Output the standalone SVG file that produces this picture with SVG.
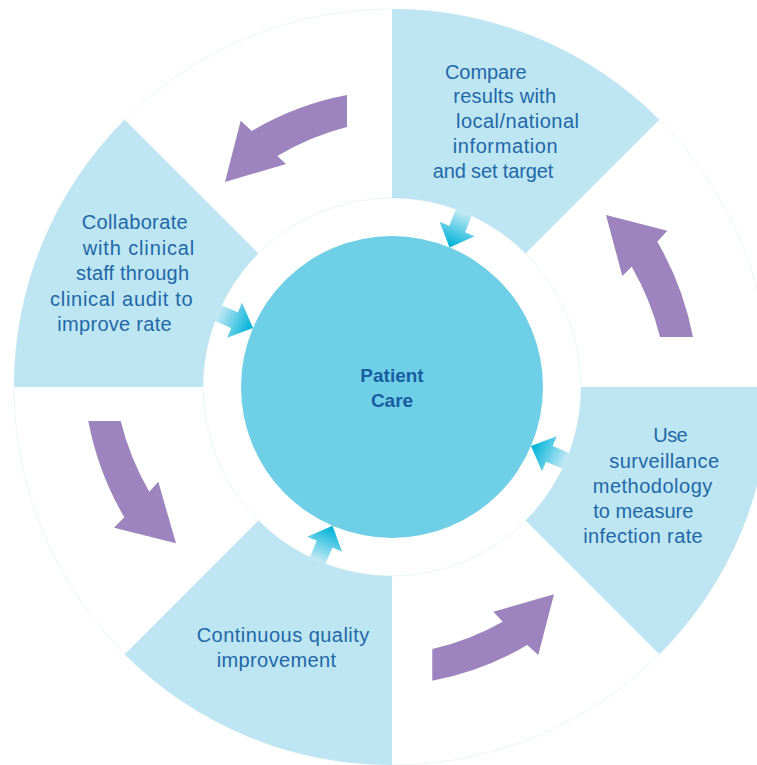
<svg xmlns="http://www.w3.org/2000/svg" width="757" height="765" viewBox="0 0 757 765">
  <defs>
    <style>
      .sector { fill: #bde5f2; }
      .ring { fill: #ffffff; stroke: #edf5f8; stroke-width: 1; }
      .core { fill: #6fcfe7; }
      .cycle { fill: #9e84bf; }
      .inward { fill: url(#inGrad); }
      .lbl { font-family: "Liberation Sans", Arial, sans-serif; font-size: 20px; fill: #1e68a8; }
      .title { font-family: "Liberation Sans", Arial, sans-serif; font-size: 19px; font-weight: bold; fill: #175da0; text-anchor: middle; }
    </style>
    <linearGradient id="inGrad" gradientUnits="userSpaceOnUse" x1="189" y1="0" x2="153" y2="0">
      <stop offset="0" stop-color="#c4e9f5"/>
      <stop offset="1" stop-color="#00b3d8"/>
    </linearGradient>
    <polygon id="inArrow" points="189,-8.5 171,-8.5 171,-19 151,0 171,19 171,8.5 189,8.5"/>
  </defs>
  <rect width="757" height="765" fill="#ffffff"/>
  <g id="rings">
    <circle class="ring" cx="392" cy="387" r="378"/>
    <circle class="ring" cx="392" cy="387" r="189"/>
  </g>
  <g id="node-compare">
    <path class="sector" d="M392,9 A378,378 0 0 1 659.3,119.7 L525.6,253.4 A189,189 0 0 0 392,198 Z"/>
    <text class="lbl" x="445" y="78.5" textLength="81.7" lengthAdjust="spacing">Compare</text>
    <text class="lbl" x="453.3" y="103" textLength="102.7" lengthAdjust="spacing">results with</text>
    <text class="lbl" x="456" y="128.3" textLength="123" lengthAdjust="spacing">local/national</text>
    <text class="lbl" x="452.7" y="153.3" textLength="105" lengthAdjust="spacing">information</text>
    <text class="lbl" x="432.7" y="178.3" textLength="120.6" lengthAdjust="spacing">and set target</text>
  </g>
  <g id="node-surveillance">
    <path class="sector" d="M770,387 A378,378 0 0 1 659.3,654.3 L525.6,520.6 A189,189 0 0 0 581,387 Z"/>
    <text class="lbl" x="653.3" y="442.3" textLength="34.4" lengthAdjust="spacing">Use</text>
    <text class="lbl" x="609.3" y="467.7" textLength="109.7" lengthAdjust="spacing">surveillance</text>
    <text class="lbl" x="592.7" y="492.7" textLength="119.6" lengthAdjust="spacing">methodology</text>
    <text class="lbl" x="593.3" y="517.7" textLength="100" lengthAdjust="spacing">to measure</text>
    <text class="lbl" x="583.3" y="543.3" textLength="119.4" lengthAdjust="spacing">infection rate</text>
  </g>
  <g id="node-quality">
    <path class="sector" d="M392,765 A378,378 0 0 1 124.7,654.3 L258.4,520.6 A189,189 0 0 0 392,576 Z"/>
    <text class="lbl" x="196.7" y="641.7" textLength="172.6" lengthAdjust="spacing">Continuous quality</text>
    <text class="lbl" x="216.7" y="666.7" textLength="119.3" lengthAdjust="spacing">improvement</text>
  </g>
  <g id="node-collaborate">
    <path class="sector" d="M14,387 A378,378 0 0 1 124.7,119.7 L258.4,253.4 A189,189 0 0 0 203,387 Z"/>
    <text class="lbl" x="81.7" y="229" textLength="106" lengthAdjust="spacing">Collaborate</text>
    <text class="lbl" x="82.7" y="254.5" textLength="111.6" lengthAdjust="spacing">with clinical</text>
    <text class="lbl" x="76" y="280" textLength="113" lengthAdjust="spacing">staff through</text>
    <text class="lbl" x="50" y="305.5" textLength="142.7" lengthAdjust="spacing">clinical audit to</text>
    <text class="lbl" x="57.3" y="331" textLength="114.4" lengthAdjust="spacing">improve rate</text>
  </g>
  <g id="node-patient-care">
    <circle class="core" cx="392" cy="387" r="151"/>
    <text class="title" x="392" y="381.7">Patient</text>
    <text class="title" x="392" y="407.3">Care</text>
  </g>
  <g id="connectors">
    <path class="cycle" d="M347,95 A293,293 0 0 0 251.7,131 L240.7,120.7 L225,182 L286,164 L277.3,156 A261,261 0 0 1 347,127 Z"/>
    <path class="cycle" d="M88.3,421 A301,301 0 0 0 124.3,517.3 L114,527.7 L176,543.3 L158.3,481.7 L149.3,491.7 A268,268 0 0 1 120.7,421 Z"/>
    <path class="cycle" d="M432.3,680.7 A294,294 0 0 0 527.3,645 L538.3,655 L554,594.3 L493.3,611.7 L502.7,621.7 A262,262 0 0 1 432.3,649 Z"/>
    <path class="cycle" d="M693,337 A303,303 0 0 0 657.3,241.7 L667.3,230.7 L606,215 L622.3,276 L631.7,266.7 A270,270 0 0 1 660,337 Z"/>
    <use href="#inArrow" class="inward" transform="translate(392,387) rotate(-67.6)"/>
    <use href="#inArrow" class="inward" transform="translate(392,387) rotate(23)"/>
    <use href="#inArrow" class="inward" transform="translate(392,387) rotate(113.2)"/>
    <use href="#inArrow" class="inward" transform="translate(392,387) rotate(203)"/>
  </g>
</svg>
